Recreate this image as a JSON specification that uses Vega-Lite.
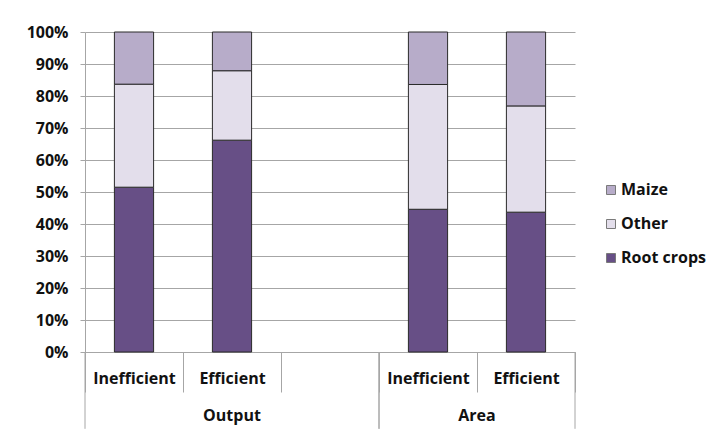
{
  "$schema": "https://vega.github.io/schema/vega-lite/v6.json",
  "width": 490,
  "height": 320,
  "autosize": {"type": "none"},
  "padding": {"left": 85, "top": 32, "right": 149, "bottom": 82},
  "background": "white",
  "config": {
    "view": {"stroke": null},
    "font": "Open Sans",
    "axis": {
      "labelFont": "Open Sans",
      "labelFontSize": 16,
      "labelFontWeight": "bold",
      "labelColor": "#111111",
      "tickColor": "#a6a6a6",
      "domainColor": "#a6a6a6",
      "gridColor": "#a6a6a6"
    },
    "axisY": {
      "tickCount": 11,
      "labelOverlap": false
    },
    "legend": {
      "labelFont": "Open Sans",
      "labelFontSize": 16,
      "labelFontWeight": "bold",
      "labelColor": "#111111"
    }
  },
  "datasets": {
    "shares": [
      {"group": "Output", "slot": "Output|Inefficient", "crop": "Root crops", "share": 51.5},
      {"group": "Output", "slot": "Output|Inefficient", "crop": "Other", "share": 32.2},
      {"group": "Output", "slot": "Output|Inefficient", "crop": "Maize", "share": 16.3},
      {"group": "Output", "slot": "Output|Efficient", "crop": "Root crops", "share": 66.2},
      {"group": "Output", "slot": "Output|Efficient", "crop": "Other", "share": 21.7},
      {"group": "Output", "slot": "Output|Efficient", "crop": "Maize", "share": 12.1},
      {"group": "Area", "slot": "Area|Inefficient", "crop": "Root crops", "share": 44.6},
      {"group": "Area", "slot": "Area|Inefficient", "crop": "Other", "share": 39.0},
      {"group": "Area", "slot": "Area|Inefficient", "crop": "Maize", "share": 16.4},
      {"group": "Area", "slot": "Area|Efficient", "crop": "Root crops", "share": 43.7},
      {"group": "Area", "slot": "Area|Efficient", "crop": "Other", "share": 33.2},
      {"group": "Area", "slot": "Area|Efficient", "crop": "Maize", "share": 23.1}
    ],
    "groups": [
      {"group": "Output", "first": "Output|Inefficient", "last": "Output|"},
      {"group": "Area", "first": "Area|Inefficient", "last": "Area|Efficient"}
    ]
  },
  "layer": [
    {
      "data": {"name": "shares"},
      "mark": {"type": "bar", "width": {"band": 0.4}, "stroke": "#2a2a2a", "strokeWidth": 1},
      "encoding": {
        "x": {
          "field": "slot",
          "type": "nominal",
          "scale": {
            "domain": ["Output|Inefficient", "Output|Efficient", "Output|", "Area|Inefficient", "Area|Efficient"],
            "paddingInner": 0,
            "paddingOuter": 0
          },
          "axis": {
            "title": null,
            "labelExpr": "split(datum.value, '|')[1]",
            "labelAngle": 0,
            "labelBaseline": "middle",
            "labelPadding": -14,
            "tickBand": "extent",
            "tickSize": 40,
            "grid": false
          }
        },
        "y": {
          "field": "share",
          "type": "quantitative",
          "stack": "normalize",
          "scale": {"domain": [0, 1], "nice": false, "clamp": false},
          "axis": {
            "title": null,
            "values": [0, 0.1, 0.2, 0.3, 0.4, 0.5, 0.6, 0.7, 0.8, 0.9, 1],
            "tickCount": 11,
            "format": ".0%",
            "grid": true,
            "tickSize": 5,
            "labelPadding": 12,
            "labelOverlap": false
          }
        },
        "color": {
          "field": "crop",
          "type": "nominal",
          "scale": {
            "domain": ["Maize", "Other", "Root crops"],
            "range": ["#b7acc9", "#e3deeb", "#674f86"]
          },
          "legend": {
            "title": null,
            "orient": "none",
            "legendX": 518,
            "legendY": 150,
            "symbolType": "square",
            "symbolSize": 81,
            "symbolStrokeColor": "#7a7a7a",
            "symbolStrokeWidth": 1,
            "labelOffset": 2,
            "rowPadding": 18,
            "padding": 0
          }
        },
        "order": {"field": "crop", "sort": "descending"}
      }
    },
    {
      "data": {"name": "groups"},
      "mark": {"type": "rule", "color": "#a6a6a6", "strokeWidth": 1},
      "encoding": {
        "x": {"field": "first", "type": "nominal", "bandPosition": 0, "title": null},
        "y": {"datum": 0, "title": null},
        "y2": {"datum": -0.24}
      }
    },
    {
      "data": {"name": "groups"},
      "mark": {"type": "rule", "color": "#a6a6a6", "strokeWidth": 1},
      "encoding": {
        "x": {"field": "last", "type": "nominal", "bandPosition": 1, "title": null},
        "y": {"datum": 0, "title": null},
        "y2": {"datum": -0.24}
      }
    },
    {
      "data": {"name": "groups"},
      "transform": [{"filter": "datum.group === 'Output'"}],
      "mark": {"type": "text", "font": "Open Sans", "fontSize": 16, "fontWeight": "bold", "color": "#111111", "baseline": "middle"},
      "encoding": {
        "x": {"datum": "Output|Efficient", "bandPosition": 0.5},
        "y": {"datum": -0.2},
        "text": {"field": "group"}
      }
    },
    {
      "data": {"name": "groups"},
      "transform": [{"filter": "datum.group === 'Area'"}],
      "mark": {"type": "text", "font": "Open Sans", "fontSize": 16, "fontWeight": "bold", "color": "#111111", "baseline": "middle"},
      "encoding": {
        "x": {"datum": "Area|Efficient", "bandPosition": 0},
        "y": {"datum": -0.2},
        "text": {"field": "group"}
      }
    }
  ]
}
